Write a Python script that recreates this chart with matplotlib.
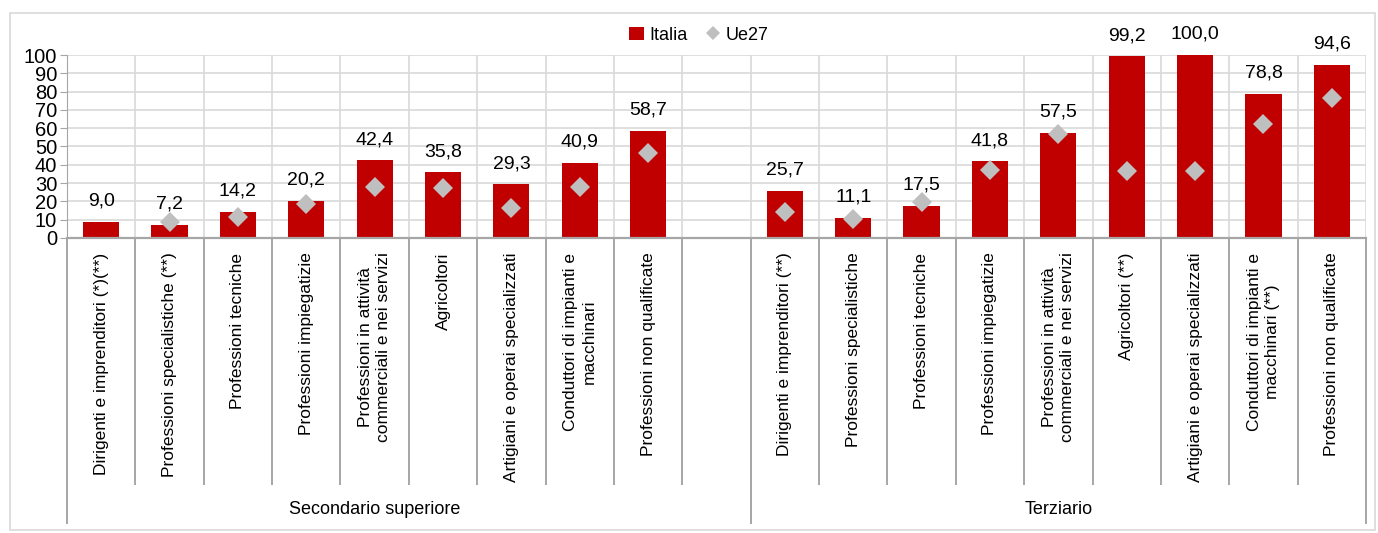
import matplotlib
matplotlib.use('Agg')
import numpy as np
import matplotlib.pyplot as plt
from matplotlib import font_manager
from matplotlib.lines import Line2D
from matplotlib.patches import Rectangle

# Data
cat_secondario = ['Dirigenti e imprenditori (*)(**)', 'Professioni specialistiche (**)',
                  'Professioni tecniche', 'Professioni impiegatizie',
                  'Professioni in attività\ncommerciali e nei servizi', 'Agricoltori',
                  'Artigiani e operai specializzati', 'Conduttori di impianti e\nmacchinari',
                  'Professioni non qualificate']
cat_terziario = ['Dirigenti e imprenditori (**)', 'Professioni specialistiche',
                 'Professioni tecniche', 'Professioni impiegatizie',
                 'Professioni in attività\ncommerciali e nei servizi', 'Agricoltori (**)',
                 'Artigiani e operai specializzati', 'Conduttori di impianti e\nmacchinari (**)',
                 'Professioni non qualificate']
groups = ['Secondario superiore', 'Terziario']
italia_sec = [9.0, 7.2, 14.2, 20.2, 42.4, 35.8, 29.3, 40.9, 58.7]
italia_ter = [25.7, 11.1, 17.5, 41.8, 57.5, 99.2, 100.0, 78.8, 94.6]
ue27_sec = [np.nan, 8.7, 11.6, 18.3, 28.0, 27.2, 16.5, 28.0, 46.6]
ue27_ter = [14.4, 10.2, 19.8, 37.2, 56.8, 36.5, 36.5, 62.1, 76.4]

RED = '#C00000'
GREY = '#BFBFBF'
GRID = '#D9D9D9'
AXC = '#A6A6A6'

installed = {f.name for f in font_manager.fontManager.ttflist}
narrow = 'Liberation Sans Narrow' if 'Liberation Sans Narrow' in installed else 'Liberation Sans'
plt.rcParams['font.family'] = ['Liberation Sans', 'DejaVu Sans']

# Slots: 9 secondario, one empty, 9 terziario
x_sec = np.arange(9)
x_ter = np.arange(10, 19)

fig = plt.figure(figsize=(13.78, 5.33), dpi=100)
fig.patches.append(Rectangle((0.007, 0.006), 0.991, 0.97, transform=fig.transFigure,
                             fill=False, edgecolor='#D9D9D9', linewidth=1.2))
ax = fig.add_axes([0.0486, 0.5535, 0.9427, 0.3433])

bar_w = 0.53
b1 = ax.bar(x_sec, italia_sec, width=bar_w, color=RED, zorder=2, label='Italia')
ax.bar(x_ter, italia_ter, width=bar_w, color=RED, zorder=2)
p1, = ax.plot(x_sec, ue27_sec, linestyle='none', marker='D', markersize=10, color=GREY,
              markeredgewidth=0, zorder=3, label='Ue27')
ax.plot(x_ter, ue27_ter, linestyle='none', marker='D', markersize=10, color=GREY,
        markeredgewidth=0, zorder=3)

for xs, vals in [(x_sec, italia_sec), (x_ter, italia_ter)]:
    for x, v in zip(xs, vals):
        ax.annotate(f'{v:.1f}'.replace('.', ','), (x, v), xytext=(0, 15),
                    textcoords='offset points', ha='center', va='center',
                    fontsize=14, family=narrow, color='black')

ax.set_xlim(-0.5, 18.5)
ax.set_ylim(0, 100)
ax.set_yticks(np.arange(0, 101, 10))
ax.tick_params(axis='y', labelsize=14.5, length=5, color=AXC, pad=2)
for lab in ax.get_yticklabels():
    lab.set_family(narrow)
ax.set_xticks([])
ax.yaxis.grid(True, color=GRID, linewidth=1.2, zorder=0)
for b in np.arange(-0.5, 19, 1.0):
    ax.axvline(b, color=GRID, linewidth=1.2, zorder=0)

for s in ['top', 'right']:
    ax.spines[s].set_visible(False)
ax.spines['left'].set_color(AXC)
ax.spines['bottom'].set_color(AXC)
ax.spines['bottom'].set_linewidth(1.6)
ax.spines['bottom'].set_zorder(4)

# Category labels and separators below the axis
trans = ax.get_xaxis_transform()
for xs, cats in [(x_sec, cat_secondario), (x_ter, cat_terziario)]:
    for x, c in zip(xs, cats):
        ax.text(x, -0.08, c, transform=trans, rotation=90, ha='center', va='top',
                fontsize=12.5, multialignment='center', linespacing=1.3)

for b in np.arange(-0.5, 19, 1.0):
    low = -1.557 if b in (-0.5, 9.5, 18.5) else -1.344
    ax.add_line(Line2D([b, b], [0, low], transform=trans, color=AXC,
                       linewidth=1.4, clip_on=False))

ax.text(4.0, -1.486, groups[0], transform=trans, ha='center', va='center',
        fontsize=13, family=narrow)
ax.text(14.0, -1.486, groups[1], transform=trans, ha='center', va='center',
        fontsize=13, family=narrow)

leg_diamond = Line2D([], [], linestyle='none', marker='D', markersize=7, color=GREY,
                     markeredgewidth=0)
fig.legend([b1, leg_diamond], ['Italia', 'Ue27'], loc='center',
           bbox_to_anchor=(0.507, 0.934), ncol=2, frameon=False,
           handlelength=0.8, handleheight=0.8, handletextpad=0.3,
           columnspacing=1.0, prop={'family': narrow, 'size': 13})

fig.savefig('out.png', dpi=100)
